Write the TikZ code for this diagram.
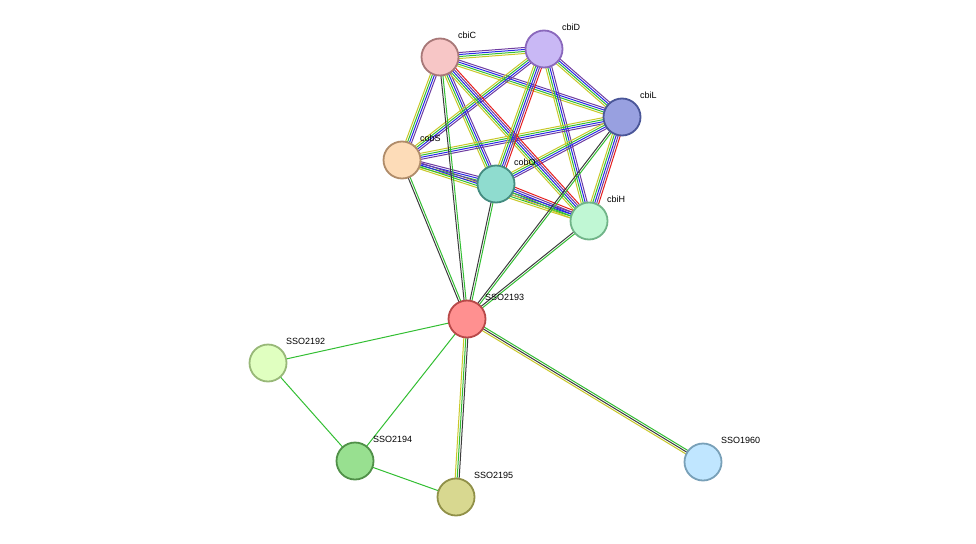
\documentclass[tikz,border=0pt]{standalone}
\usepackage{fontspec}
\setmainfont{Liberation Sans}
\usetikzlibrary{calc}
\definecolor{tmYellow}{RGB}{200,200,40}
\definecolor{nbGreen}{RGB}{50,190,50}
\definecolor{coBlue}{RGB}{40,40,230}
\definecolor{exPurple}{RGB}{110,60,160}
\definecolor{fuRed}{RGB}{230,30,30}
\definecolor{cxBlack}{RGB}{60,60,60}
% draw parallel strands between two named coordinates
\newcommand{\strands}[4]{%
  \foreach \col [count=\i] in {#4}{
    \pgfmathsetmacro{\off}{(\i-(#3+1)/2)*2}
    \draw[\col,line width=1pt] ($(#1)!\off pt!90:(#2)$) -- ($(#2)!\off pt!-90:(#1)$);
  }}
\begin{document}
\begin{tikzpicture}[x=1pt,y=-1pt,
    protein/.style={circle,minimum size=37pt,inner sep=0pt,line width=1.8pt},
    plabel/.style={anchor=west,font=\fontsize{9}{11}\selectfont,inner sep=0pt}]
\useasboundingbox (0,0) rectangle (976,543);
\coordinate (cbiC) at (440,57);
\coordinate (cbiD) at (544,49);
\coordinate (cbiL) at (622,117);
\coordinate (cobS) at (402,160);
\coordinate (cobO) at (496,184);
\coordinate (cbiH) at (589,221);
\coordinate (s2193) at (467,319);
\coordinate (s2192) at (268,363);
\coordinate (s2194) at (355,461);
\coordinate (s2195) at (456,497);
\coordinate (s1960) at (703,462);
% cluster
\foreach \a/\b in {cbiC/cbiD,cbiC/cbiL,cbiC/cobS,cbiC/cobO,cbiD/cbiL,cbiD/cobS,cbiD/cbiH,cbiL/cobS,cbiL/cobO,cobS/cobO,cobS/cbiH}
  \strands{\a}{\b}{4}{tmYellow,nbGreen,coBlue,exPurple};
\foreach \a/\b in {cbiC/cbiH,cbiD/cobO,cbiL/cbiH,cobO/cbiH}
  \strands{\a}{\b}{5}{tmYellow,nbGreen,coBlue,exPurple,fuRed};
% hub
\foreach \b in {cbiC,cbiL,cobS,cobO,cbiH}
  \strands{s2193}{\b}{2}{nbGreen,cxBlack};
\strands{s2193}{s2195}{3}{tmYellow,nbGreen,cxBlack}
\strands{s2193}{s1960}{3}{tmYellow,cxBlack,nbGreen}
\foreach \a/\b in {s2193/s2192,s2193/s2194,s2192/s2194,s2194/s2195}
  \draw[nbGreen,line width=1pt] (\a) -- (\b);
% proteins
\foreach \n/\f/\d/\t in {cbiC/F7C6C6/A87878/cbiC,cbiD/C9B8F5/8A68BC/cbiD,cbiL/98A0E0/4A5698/cbiL,
    cobS/FDDCB8/B08C6A/cobS,cobO/8FDCCF/448C80/cobO,cbiH/C0F7D4/70B488/cbiH,
    s2193/FF9090/B84848/SSO2193,s2192/E0FFC0/98B878/SSO2192,s2194/98E090/509048/SSO2194,
    s2195/D8D890/909048/SSO2195,s1960/C0E6FF/78A0B8/SSO1960}{
  \definecolor{fc}{HTML}{\f}\definecolor{dc}{HTML}{\d}
  \node[protein,fill=fc,draw=dc] (\n-p) at (\n) {};
  \node[plabel] (\n-l) at ($(\n)+(18,-22)$) {\t};
}
\end{tikzpicture}
\end{document}
